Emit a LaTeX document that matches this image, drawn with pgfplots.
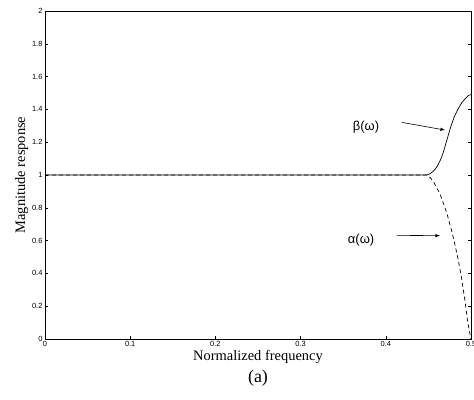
\documentclass[border=0pt]{standalone}
\usepackage{fontspec}
\setmainfont{Liberation Serif}
\newfontfamily\ticksf{Liberation Sans}
\usepackage{pgfplots}
\pgfplotsset{compat=1.18}

\begin{document}
\begin{tikzpicture}
\begin{axis}[
    scale only axis,
    width=426bp, height=328bp,
    xmin=0, xmax=0.5, ymin=0, ymax=2,
    xtick={0,0.1,...,0.5},
    ytick={0,0.2,...,2},
    xticklabels={0,0.1,0.2,0.3,0.4,0.5},
    yticklabels={0,0.2,0.4,0.6,0.8,1,1.2,1.4,1.6,1.8,2},
    xtick pos=bottom, ytick pos=both,
    tick align=inside,
    major tick length=3bp,
    tick style={black, line width=0.5pt},
    axis line style={line width=0.8pt},
    tick label style={font=\ticksf\fontsize{7.5}{8}\selectfont},
    xticklabel style={yshift=1bp},
    yticklabel style={xshift=1bp},
    xlabel={Normalized frequency},
    ylabel={Magnitude response},
    label style={font=\fontsize{14.5}{16}\selectfont},
    xlabel style={yshift=3bp},
    ylabel style={yshift=-3bp},
  ]
  \addplot[black, line width=0.7pt] coordinates {
    (0,1) (0.1,1) (0.2,1) (0.3,1) (0.4,1) (0.448,1)
    (0.452,1.008) (0.455,1.02) (0.458,1.035) (0.461,1.06) (0.464,1.09)
    (0.467,1.13) (0.4715,1.21) (0.476,1.29) (0.480,1.35) (0.4845,1.40)
    (0.489,1.44) (0.494,1.47) (0.497,1.485) (0.5,1.49)
  };
  \addplot[black, line width=0.7pt, dash pattern=on 4bp off 3bp] coordinates {
    (0,1) (0.1,1) (0.2,1) (0.3,1) (0.4,1) (0.448,1)
    (0.452,0.985) (0.4558,0.96) (0.4636,0.885) (0.4715,0.77)
    (0.4773,0.66) (0.4812,0.575) (0.4851,0.48) (0.489,0.37)
    (0.493,0.23) (0.4957,0.12) (0.498,0.05) (0.5,0)
  };
  \node[font=\ticksf\fontsize{13}{15}\selectfont] at (axis cs:0.3768,1.293) {β(ω)};
  \node[font=\ticksf\fontsize{13}{15}\selectfont] at (axis cs:0.371,0.604) {α(ω)};
  \draw[-latex, line width=0.6pt] (axis cs:0.4187,1.321) -- (axis cs:0.4695,1.274);
  \draw[-latex, line width=0.6pt] (axis cs:0.4128,0.632) -- (axis cs:0.4636,0.630);
\end{axis}
\node[font=\fontsize{18}{20}\selectfont] at ([yshift=-39bp]current axis.south) {(a)};
\pgfresetboundingbox
\useasboundingbox ([xshift=-45bp,yshift=-61bp]current axis.south west) rectangle ([xshift=3bp,yshift=11bp]current axis.north east);
\end{tikzpicture}
\end{document}
